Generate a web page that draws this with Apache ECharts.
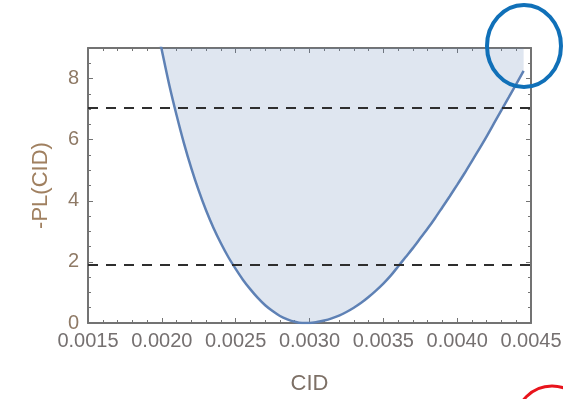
<!DOCTYPE html>
<html>
<head>
<meta charset="utf-8">
<script src="https://cdn.jsdelivr.net/npm/echarts@6/dist/echarts.min.js"></script>
<style>
html,body{margin:0;padding:0;background:#fff;}
#c{width:563px;height:399px;}
</style>
</head>
<body>
<div id="c"></div>
<script>
// ---- data ----
const cid = [0.00198, 0.00200, 0.00205, 0.00210, 0.00215, 0.00220, 0.00225, 0.00230, 0.00235, 0.00240,
  0.00245, 0.00250, 0.00255, 0.00260, 0.00265, 0.00270, 0.00275, 0.00280, 0.00285, 0.00290,
  0.00295, 0.00300, 0.00305, 0.00310, 0.00315, 0.00320, 0.00325, 0.00330, 0.00335, 0.00340,
  0.00345, 0.00350, 0.00355, 0.00360, 0.00365, 0.00370, 0.00375, 0.00380, 0.00385, 0.00390,
  0.00395, 0.00400, 0.00405, 0.00410, 0.00415, 0.00420, 0.00425, 0.00430, 0.00435, 0.00440, 0.00445];
const negPL = [9.40, 8.93, 7.80, 6.80, 5.88, 5.06, 4.33, 3.68, 3.11, 2.61,
  2.16, 1.77, 1.41, 1.10, 0.82, 0.58, 0.39, 0.23, 0.12, 0.04,
  0.00, 0.00, 0.03, 0.08, 0.15, 0.24, 0.36, 0.50, 0.66, 0.85,
  1.06, 1.29, 1.55, 1.85, 2.15, 2.45, 2.77, 3.09, 3.43, 3.79,
  4.15, 4.52, 4.90, 5.30, 5.70, 6.11, 6.54, 6.97, 7.39, 7.82, 8.25];
const thresholds = [7.03, 1.92];
const xTicks = {min: 0.0015, max: 0.0045, interval: 0.0005};
const yTicks = {min: 0, max: 9, interval: 2};
const xTitle = 'CID';
const yTitle = '-PL(CID)';

const frameColor = '#737373';
const font = 'Liberation Sans, Arial, sans-serif';

function xAxisCfg(pos, withLabels) {
  return {
    type: 'value', position: pos,
    min: xTicks.min, max: xTicks.max, interval: xTicks.interval,
    axisLine: {show: true, onZero: false, lineStyle: {color: frameColor, width: 2}},
    axisTick: {show: true, inside: true, length: 5, lineStyle: {color: frameColor, width: 1}},
    minorTick: {show: true, splitNumber: 5, length: 3, lineStyle: {color: frameColor, width: 1}},
    splitLine: {show: false},
    axisLabel: {show: withLabels, formatter: v => v.toFixed(4), fontSize: 20, color: '#757070',
      fontFamily: font, margin: 8},
    name: withLabels ? xTitle : '', nameLocation: 'middle', nameGap: 50,
    nameTextStyle: {fontSize: 22, color: '#7d7066', fontFamily: font}
  };
}
function yAxisCfg(pos, withLabels) {
  return {
    type: 'value', position: pos,
    min: yTicks.min, max: yTicks.max, interval: yTicks.interval,
    axisLine: {show: true, onZero: false, lineStyle: {color: frameColor, width: 2}},
    axisTick: {show: true, inside: true, length: 5, lineStyle: {color: frameColor, width: 1}},
    minorTick: {show: true, splitNumber: 4, length: 3, lineStyle: {color: frameColor, width: 1}},
    splitLine: {show: false},
    axisLabel: {show: withLabels, showMaxLabel: false, fontSize: 20, color: '#8f7a66',
      fontFamily: font, margin: 9},
    name: withLabels ? yTitle : '', nameLocation: 'middle', nameGap: 36,
    nameTextStyle: {fontSize: 22, color: '#a08060', fontFamily: font}
  };
}

const chart = echarts.init(document.getElementById('c'), null, {renderer: 'canvas'});
chart.setOption({
  animation: false,
  backgroundColor: '#fff',
  grid: {left: 88, right: 32, top: 48, bottom: 76, containLabel: false, outerBoundsMode: 'none'},
  xAxis: [xAxisCfg('bottom', true), xAxisCfg('top', false)],
  yAxis: [yAxisCfg('left', true), yAxisCfg('right', false)],
  series: [{
    type: 'line',
    xAxisIndex: 0, yAxisIndex: 0,
    data: cid.map((c, i) => [c, negPL[i]]),
    showSymbol: false,
    smooth: 0.3,
    clip: true,
    lineStyle: {color: '#5E81B5', width: 2.5},
    areaStyle: {origin: 'end', color: '#5E81B5', opacity: 0.2},
    markLine: {
      silent: true,
      symbol: ['none', 'none'],
      label: {show: false},
      lineStyle: {type: [10, 8], color: '#2e2e2e', width: 1.8},
      data: thresholds.map(t => ({yAxis: t}))
    }
  }],
  graphic: [
    {type: 'ellipse', shape: {cx: 524, cy: 46, rx: 37, ry: 41},
     style: {fill: 'none', stroke: '#1070b8', lineWidth: 4}, z: 100},
    {type: 'circle', shape: {cx: 552, cy: 422, r: 36},
     style: {fill: 'none', stroke: '#e8141c', lineWidth: 3}, z: 100}
  ]
});
</script>
</body>
</html>
